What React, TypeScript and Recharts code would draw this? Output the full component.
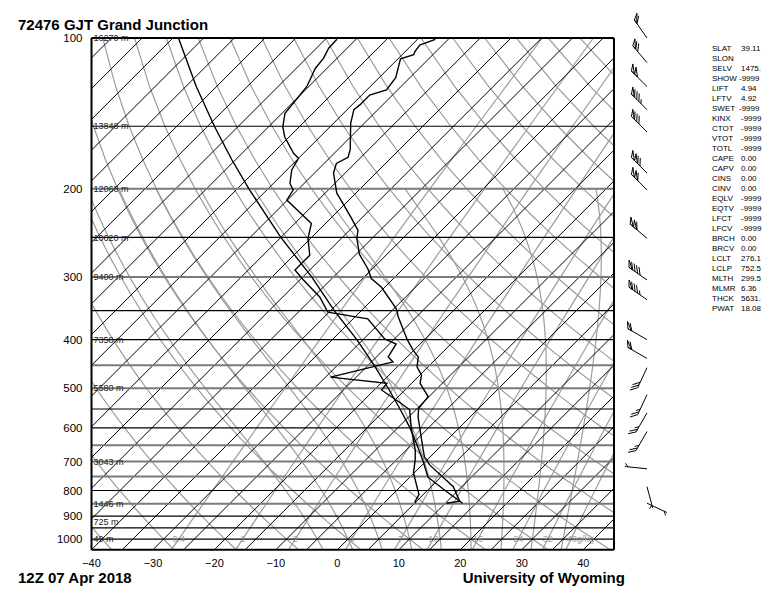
import { ComposedChart, Line, XAxis, YAxis, ReferenceLine, Scatter } from 'recharts';

// 72476 GJT sounding (pressure hPa / deg C)
const tempP = [848, 840, 786, 712, 686, 665, 606, 570, 548, 520, 489, 471, 453, 433, 420, 400, 360, 347, 314, 302, 289, 270, 251, 242, 227, 208, 204, 186, 178, 173, 167, 148, 139, 136, 130, 127, 120, 110, 108, 106.5, 103.3, 100.6];
const tempC = [10.2, 12.0, 8.6, 1.3, -0.9, -2.2, -6.0, -8.5, -9.8, -10.1, -13.6, -14.7, -16.8, -18.2, -20.1, -22.8, -28.0, -29.6, -35.6, -38.6, -40.7, -44.5, -47.5, -48.6, -52.1, -57.0, -58.1, -61.9, -63.0, -62.1, -63.0, -67.2, -68.9, -68.7, -68.7, -66.8, -67.3, -69.6, -68.1, -68.4, -68.7, -67.1];

const dewP = [848, 842, 815, 738, 694, 665, 597, 552, 535, 504, 489, 475, 443, 433, 408, 398.5, 363.6, 352.5, 328.6, 304, 290.4, 271.3, 251.4, 234.5, 210.6, 201.1, 195.1, 183.4, 173.8, 169.9, 157.6, 150.3, 141.4, 135, 125.1, 114.9, 109.8, 104.8, 100.6];
const dewC = [5.2, 4.8, 4.3, -0.1, -2.0, -3.5, -8.0, -11.0, -13.6, -18.8, -19.0, -29.2, -21.5, -23.1, -23.9, -26.6, -32.6, -40.2, -44.0, -49.4, -52.4, -52.4, -55.4, -57.3, -65.1, -65.7, -67.3, -69.2, -70.0, -71.6, -75.7, -77.7, -79.5, -79.8, -80.3, -81.9, -82.2, -83.0, -83.1];

const parcelP = [848, 800, 752.5, 700, 650, 600, 550, 500, 450, 400, 350, 300, 275, 250, 225, 200, 175, 150, 125, 100];
const parcelC = [12.8, 7.9, 2.95, -0.4, -4.0, -8.0, -12.7, -18.0, -24.0, -31.0, -39.4, -48.5, -54.0, -60.0, -66.2, -73.1, -80.6, -88.9, -98.3, -109.1];

const windP = [100, 112, 125, 139, 154, 186, 201, 251, 304, 333, 400, 436, 455, 515, 560, 610, 724, 786, 848];
const windDir = [325, 320, 315, 315, 315, 315, 315, 310, 305, 305, 300, 300, 205, 205, 210, 210, 276, 165, 115];
const windKt = [60, 70, 100, 85, 80, 120, 110, 110, 90, 85, 60, 60, 30, 25, 25, 25, 5, 5, 5];

const xTicks = [-40, -30, -20, -10, 0, 10, 20, 30, 40];
const pTicks = [100, 200, 300, 400, 500, 600, 700, 800, 900, 1000];
const isobars = [100, 150, 200, 250, 300, 350, 400, 450, 500, 550, 600, 650, 700, 750, 800, 850, 900, 950, 1000];
const grayIsobars = [200, 300, 450, 500, 650, 700, 750, 850];
const heightP = [100, 150, 200, 250, 300, 400, 500, 700, 850, 925, 1000];
const heightM = ['16270 m', '13848 m', '12068 m', '10620 m', '9400 m', '7358 m', '5580 m', '3043 m', '1446 m', '725 m', '49 m'];
const mixRatios = [0.4, 1, 2, 4, 7, 10, 16, 24, 32, 40];
const mixLabels = ['0.4', '1', '2', '4', '7', '10', '16', '24', '32', '40g/kg'];
const moistTw = [-5, 0, 5, 10, 15, 20, 25, 30, 35];

const stats = [
  ['SLAT', '39.11'], ['SLON', ''], ['SELV', '1475.'], ['SHOW', '-9999'], ['LIFT', '4.94'],
  ['LFTV', '4.92'], ['SWET', '-9999'], ['KINX', '-9999'], ['CTOT', '-9999'], ['VTOT', '-9999'],
  ['TOTL', '-9999'], ['CAPE', '0.00'], ['CAPV', '0.00'], ['CINS', '0.00'], ['CINV', '0.00'],
  ['EQLV', '-9999'], ['EQTV', '-9999'], ['LFCT', '-9999'], ['LFCV', '-9999'], ['BRCH', '0.00'],
  ['BRCV', '0.00'], ['LCLT', '276.1'], ['LCLP', '752.5'], ['MLTH', '299.5'], ['MLMR', '6.36'],
  ['THCK', '5631.'], ['PWAT', '18.08'],
];

const W = 768;
const H = 583;
const MARGIN = { top: 30, right: 162, bottom: 11.3, left: 0 };
const YAXIS_W = 83.5;
const XAXIS_H = 30;
const PLOT_W = W - MARGIN.right - YAXIS_W;
const PLOT_H = H - MARGIN.top - MARGIN.bottom - XAXIS_H;
const T_MIN = -40;
const T_MAX = 45;
const P_TOP = 100;
const P_BOT = 1050;
const SKEW = (PLOT_H / Math.log10(P_BOT / P_TOP)) / (PLOT_W / (T_MAX - T_MIN));
const FONT = '"Liberation Sans", Arial, Helvetica, sans-serif';
const GRAY = '#9c9c9c';

const skewX = (t: number, p: number) => t + SKEW * Math.log10(P_BOT / p);

const profile = (ps: number[], ts: number[]) => ps.map((p, i) => ({ p, x: skewX(ts[i], p) }));

// background lines
const isotherms: { p: number; x: number }[][] = [];
for (let t = -120; t <= 45; t += 5) {
  isotherms.push([{ p: P_BOT, x: skewX(t, P_BOT) }, { p: P_TOP, x: skewX(t, P_TOP) }]);
}

const dryAdiabats: { p: number; x: number }[][] = [];
for (let tc = -40; tc <= 180; tc += 10) {
  const pts = [];
  for (let p = P_BOT; p >= P_TOP; p -= 25) {
    const t = (tc + 273.15) * Math.pow(p / 1000, 0.286) - 273.15;
    pts.push({ p, x: skewX(t, p) });
  }
  dryAdiabats.push(pts);
}

const dewFromMix = (w: number, p: number) => {
  const e = (w * p) / (622 + w);
  const l = Math.log(e / 6.112);
  return (243.5 * l) / (17.67 - l);
};

const mixLines = mixRatios.map((w) => {
  const pts = [];
  for (let p = P_BOT; p >= P_TOP; p -= 50) pts.push({ p, x: skewX(dewFromMix(w, p), p) });
  return pts;
});
const mixLabelData = mixRatios.map((w, i) => ({ p: 1000, x: skewX(dewFromMix(w, 1000), 1000), label: mixLabels[i] }));

const moistLapse = (T: number, p: number) => {
  const tc = T - 273.15;
  const es = 6.112 * Math.exp((17.67 * tc) / (tc + 243.5));
  const rs = (0.622 * es) / (p - es);
  return (287.04 * T + 2.501e6 * rs) / (1005.7 + (2.501e6 * 2.501e6 * rs * 0.622) / (287.04 * T * T)) / p;
};
const rk4 = (T: number, p: number, h: number) => {
  const k1 = moistLapse(T, p);
  const k2 = moistLapse(T + (h / 2) * k1, p + h / 2);
  const k3 = moistLapse(T + (h / 2) * k2, p + h / 2);
  const k4 = moistLapse(T + h * k3, p + h);
  return T + (h / 6) * (k1 + 2 * k2 + 2 * k3 + k4);
};
const moistAdiabats = moistTw.map((tw) => {
  let Tb = tw + 273.15;
  for (let p = 1000; p < P_BOT; p += 10) Tb = rk4(Tb, p, 10);
  const pts = [{ p: P_BOT, x: skewX(Tb - 273.15, P_BOT) }];
  let T = tw + 273.15;
  pts.push({ p: 1000, x: skewX(tw, 1000) });
  for (let p = 1000; p > 200; p -= 10) {
    T = rk4(T, p, -10);
    pts.push({ p: p - 10, x: skewX(T - 273.15, p - 10) });
  }
  return pts;
});

const windData = windP.map((p, i) => ({ p, x: 1, dir: windDir[i], spd: windKt[i] }));

function Barb(props: any) {
  const { cx, cy, payload } = props;
  if (cx == null || cy == null) return null;
  const sx = cx + 33;
  const sy = cy;
  const L = 22;
  const r = (payload.dir * Math.PI) / 180;
  const dx = Math.sin(r);
  const dy = -Math.cos(r);
  const px = -dy;
  const py = dx;
  const tx = sx + dx * L;
  const ty = sy + dy * L;
  const at = (d: number) => [tx - dx * d, ty - dy * d];
  const els: any[] = [<line key="s" x1={sx} y1={sy} x2={tx} y2={ty} stroke="#000" strokeWidth={1} />];
  let rem = Math.round(payload.spd / 5) * 5;
  let pos = 0;
  let k = 0;
  while (rem >= 50) {
    const [ax, ay] = at(pos);
    const [bx, by] = at(pos + 4);
    const apx = ax + px * 6 + dx * 4;
    const apy = ay + py * 6 + dy * 4;
    els.push(<polygon key={`f${k++}`} points={`${ax},${ay} ${bx},${by} ${apx},${apy}`} fill="none" stroke="#000" strokeWidth={1} />);
    pos += 4.5;
    rem -= 50;
  }
  if (pos === 0 && rem < 10) pos = 3;
  while (rem >= 10) {
    const [ax, ay] = at(pos);
    els.push(<line key={`b${k++}`} x1={ax} y1={ay} x2={ax + px * 6 + dx * 5.5} y2={ay + py * 6 + dy * 5.5} stroke="#000" strokeWidth={1} />);
    pos += 3;
    rem -= 10;
  }
  if (rem >= 5) {
    const [ax, ay] = at(pos);
    els.push(<line key={`h${k++}`} x1={ax} y1={ay} x2={ax + px * 3.2 + dx * 3} y2={ay + py * 3.2 + dy * 3} stroke="#000" strokeWidth={1} />);
  }
  return <g>{els}</g>;
}

function MixLabel(props: any) {
  const { cx, cy, payload } = props;
  const last = payload.label.includes('g/kg');
  return (
    <text x={last ? cx - 4 : cx} y={cy} fontSize={9} fill={GRAY} fontFamily={FONT} textAnchor={last ? 'start' : 'middle'} dominantBaseline="central">
      {payload.label}
    </text>
  );
}

const tickStyle = { fontSize: 11, fill: '#000', fontFamily: FONT };

export default function App() {
  return (
    <div style={{ position: 'relative', width: W, height: H }}>
      <ComposedChart width={W} height={H} margin={MARGIN}>
        <XAxis type="number" dataKey="x" domain={[T_MIN, T_MAX]} allowDataOverflow ticks={xTicks} interval={0}
          tickLine={false} axisLine={false} height={XAXIS_H} tickMargin={3} tick={tickStyle}
          tickFormatter={(v: number) => String(v).replace('-', '\u2212')} />
        <YAxis type="number" dataKey="p" scale="log" domain={[P_TOP, P_BOT]} reversed allowDataOverflow ticks={pTicks}
          interval={0} tickLine={false} axisLine={false} width={YAXIS_W} tickMargin={3} tick={{ ...tickStyle, fontSize: 11.5 }} />
        <XAxis xAxisId="w" type="number" dataKey="x" domain={[0, 1]} hide />
        <YAxis yAxisId="w" type="number" dataKey="p" scale="log" domain={[P_TOP, P_BOT]} reversed hide />

        {dryAdiabats.map((d, i) => (
          <Line key={`dry${i}`} data={d} dataKey="p" stroke={GRAY} strokeWidth={1.2} dot={false} activeDot={false} isAnimationActive={false} />
        ))}
        {moistAdiabats.map((d, i) => (
          <Line key={`moist${i}`} data={d} dataKey="p" stroke={GRAY} strokeWidth={1.2} dot={false} activeDot={false} isAnimationActive={false} />
        ))}
        {mixLines.map((d, i) => (
          <Line key={`mix${i}`} data={d} dataKey="p" stroke={GRAY} strokeWidth={1.2} dot={false} activeDot={false} isAnimationActive={false} />
        ))}
        {isotherms.map((d, i) => (
          <Line key={`iso${i}`} data={d} dataKey="p" stroke="#000" strokeWidth={1} dot={false} activeDot={false} isAnimationActive={false} />
        ))}
        {isobars.map((p) => {
          const hi = heightP.indexOf(p);
          const gray = grayIsobars.includes(p);
          return (
            <ReferenceLine key={`p${p}`} y={p} stroke={gray ? '#7a7a7a' : '#000'} strokeWidth={gray ? 2 : 1.2}
              label={hi >= 0 ? { value: heightM[hi], position: 'insideLeft', offset: 2, fontSize: 9, fill: '#222', fontFamily: FONT } : undefined} />
          );
        })}
        <ReferenceLine y={925} stroke="none" label={{ value: '725 m', position: 'insideLeft', offset: 2, fontSize: 9, fill: '#222', fontFamily: FONT }} />

        <Scatter data={mixLabelData} shape={<MixLabel />} isAnimationActive={false} />

        <Line data={profile(parcelP, parcelC)} dataKey="p" stroke="#000" strokeWidth={1.4} dot={false} activeDot={false} isAnimationActive={false} />
        <Line data={profile(dewP, dewC)} dataKey="p" stroke="#000" strokeWidth={1.4} dot={false} activeDot={false} isAnimationActive={false} />
        <Line data={profile(tempP, tempC)} dataKey="p" stroke="#000" strokeWidth={1.4} dot={false} activeDot={false} isAnimationActive={false} />

        <ReferenceLine x={T_MIN} stroke="#000" strokeWidth={2} />
        <ReferenceLine x={T_MAX} stroke="#000" strokeWidth={2} />
        <ReferenceLine y={P_TOP} stroke="#000" strokeWidth={2} />
        <ReferenceLine y={P_BOT} stroke="#000" strokeWidth={2} />

        <Scatter xAxisId="w" yAxisId="w" data={windData} shape={<Barb />} isAnimationActive={false} />
      </ComposedChart>

      <svg width={W} height={H} style={{ position: 'absolute', left: 0, top: 0, pointerEvents: 'none' }}>
        <text x={10} y={22} fontSize={15} fontWeight="bold" fontFamily={FONT}>72476 GJT Grand Junction</text>
        <text x={10} y={574.5} fontSize={15} fontWeight="bold" fontFamily={FONT}>12Z 07 Apr 2018</text>
        <text x={454.7} y={574.5} fontSize={15} fontWeight="bold" fontFamily={FONT}>University of Wyoming</text>
        {stats.map(([k, v], i) => (
          <g key={k} fontSize={8} fontFamily={FONT} fill="#000">
            <text x={704} y={43 + 10 * i}>{k}</text>
            <text x={k === 'SHOW' || k === 'SWET' ? 731 : 733} y={43 + 10 * i}>{v}</text>
          </g>
        ))}
      </svg>
    </div>
  );
}
